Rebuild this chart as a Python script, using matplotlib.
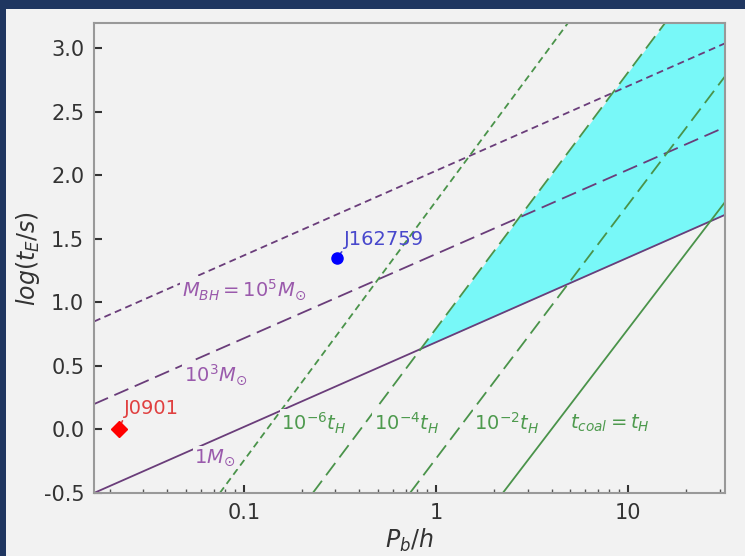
import numpy as np
import matplotlib
matplotlib.use("Agg")
import matplotlib.pyplot as plt
from matplotlib import ticker
from matplotlib.patches import Rectangle

plt.rcParams['axes.unicode_minus'] = False
plt.rcParams['lines.scale_dashes'] = False

BG = '#f2f2f2'
NAVY = '#1f3660'
PURPLE = '#6a3d7a'
PURPLE_TXT = '#9a5aac'
GREEN = '#4a934a'
GREEN_TXT = '#4e9a4e'

SHORT = (5, 3.2)
LONG = (11, 5)

# axis limits
P_MIN, P_MAX = 0.0166, 32.0
Y_MIN, Y_MAX = -0.5, 3.2

# M_BH lines: log(t_E) read at the left and right edges
mass_labels = [r'$1M_{\odot}$', r'$10^3M_{\odot}$', r'$M_{BH}=10^5M_{\odot}$']
mass_y_left = [-0.50, 0.20, 0.85]
mass_y_right = [1.69, 2.38, 3.04]

# t_coal lines: two points read on each (P_b, log t_E)
tc_labels = [r'$10^{-6}t_H$', r'$10^{-4}t_H$', r'$10^{-2}t_H$',
             r'$t_{coal}=t_H$']
tc_p = [[0.075, 4.87], [0.2286, 15.6], [0.733, 32.0], [2.23, 32.0]]
tc_y = [[-0.5, 3.2], [-0.5, 3.2], [-0.5, 2.78], [-0.5, 1.79]]

# sources
src_names = ['J0901', 'J162759']
src_p = [0.0223, 0.305]
src_y = [0.0, 1.35]

fig = plt.figure(figsize=(7.45, 5.56), dpi=100, facecolor=NAVY)
fig.add_artist(Rectangle((6 / 745., 0), 1, (556 - 9) / 556., fc=BG,
                         ec='none', transform=fig.transFigure, zorder=-10))
ax = fig.add_axes([94 / 745., 1 - 493 / 556., (725 - 94) / 745.,
                   (493 - 23) / 556.])
ax.set_facecolor(BG)
ax.set_xscale('log')
ax.set_xlim(P_MIN, P_MAX)
ax.set_ylim(Y_MIN, Y_MAX)

# cyan region between the 1 Msun line and the 1e-4 t_H line
g = np.linspace(np.log10(P_MIN), np.log10(P_MAX), 600)
low = np.interp(g, np.log10([P_MIN, P_MAX]), [mass_y_left[0], mass_y_right[0]])
high = np.interp(g, np.log10(tc_p[1]), tc_y[1])
ax.fill_between(10 ** g, low, high, where=high > low, interpolate=True,
                color='cyan', alpha=0.5, lw=0, zorder=1)

# purple lines
styles = [None, LONG, SHORT]
for yl, yr, ds in zip(mass_y_left, mass_y_right, styles):
    line, = ax.plot([P_MIN, P_MAX], [yl, yr], color=PURPLE, lw=1.3, zorder=2)
    if ds:
        line.set_dashes(ds)

# green lines
gstyles = [SHORT, LONG, LONG, None]
for px, py, ds in zip(tc_p, tc_y, gstyles):
    line, = ax.plot(px, py, color=GREEN, lw=1.3, zorder=2)
    if ds:
        line.set_dashes(ds)

box = dict(fc=BG, ec='none', pad=1)
fs = 14
ax.text(0.0475, 1.10, mass_labels[2], color=PURPLE_TXT, fontsize=fs,
        va='center', bbox=box, zorder=3)
ax.text(0.0487, 0.43, mass_labels[1], color=PURPLE_TXT, fontsize=fs,
        va='center', bbox=box, zorder=3)
ax.text(0.055, -0.22, mass_labels[0], color=PURPLE_TXT, fontsize=fs,
        va='center', bbox=box, zorder=3)
for xt, lab in zip([0.156, 0.475, 1.58, 4.99], tc_labels):
    ax.text(xt, 0.05, lab, color=GREEN_TXT, fontsize=fs, va='center',
            bbox=box, zorder=3)

# sources
ax.plot(src_p[0], src_y[0], 'D', color='red', ms=8, zorder=4)
ax.plot(src_p[1], src_y[1], 'o', color='blue', ms=8, zorder=4)
ax.annotate(src_names[0], xy=(src_p[0], src_y[0]), xytext=(0.0237, 0.09),
            color='#e04040', fontsize=fs, ha='left', va='bottom',
            arrowprops=dict(arrowstyle='-', color='#e04040', lw=1.2,
                            relpos=(0, 0), shrinkA=0, shrinkB=4))
ax.annotate(src_names[1], xy=(src_p[1], src_y[1]), xytext=(0.332, 1.42),
            color='#4848cc', fontsize=fs, ha='left', va='bottom',
            arrowprops=dict(arrowstyle='-', color='#4848cc', lw=1.2,
                            relpos=(0, 0), shrinkA=0, shrinkB=4))

# axes cosmetics
ax.xaxis.set_major_formatter(ticker.FuncFormatter(lambda v, p: '%g' % v))
ax.xaxis.set_minor_formatter(ticker.NullFormatter())
ax.set_yticks(np.arange(-0.5, 3.01, 0.5))
ax.yaxis.set_major_formatter(ticker.FormatStrFormatter('%.1f'))
ax.tick_params(which='major', direction='in', length=6, width=1.5,
               color='#333333', labelsize=15, labelcolor='#333333', pad=7)
ax.tick_params(which='minor', direction='in', length=3, width=1,
               color='#555555')
for sp in ax.spines.values():
    sp.set_color('#999999')
    sp.set_linewidth(1.5)

ax.set_xlabel(r'$P_b/h$', fontsize=17, color='#333333', labelpad=3)
ax.set_ylabel(r'$log(t_E/s)$', fontsize=17, color='#333333', labelpad=1)

fig.savefig('out.png', dpi=100, facecolor=NAVY)
